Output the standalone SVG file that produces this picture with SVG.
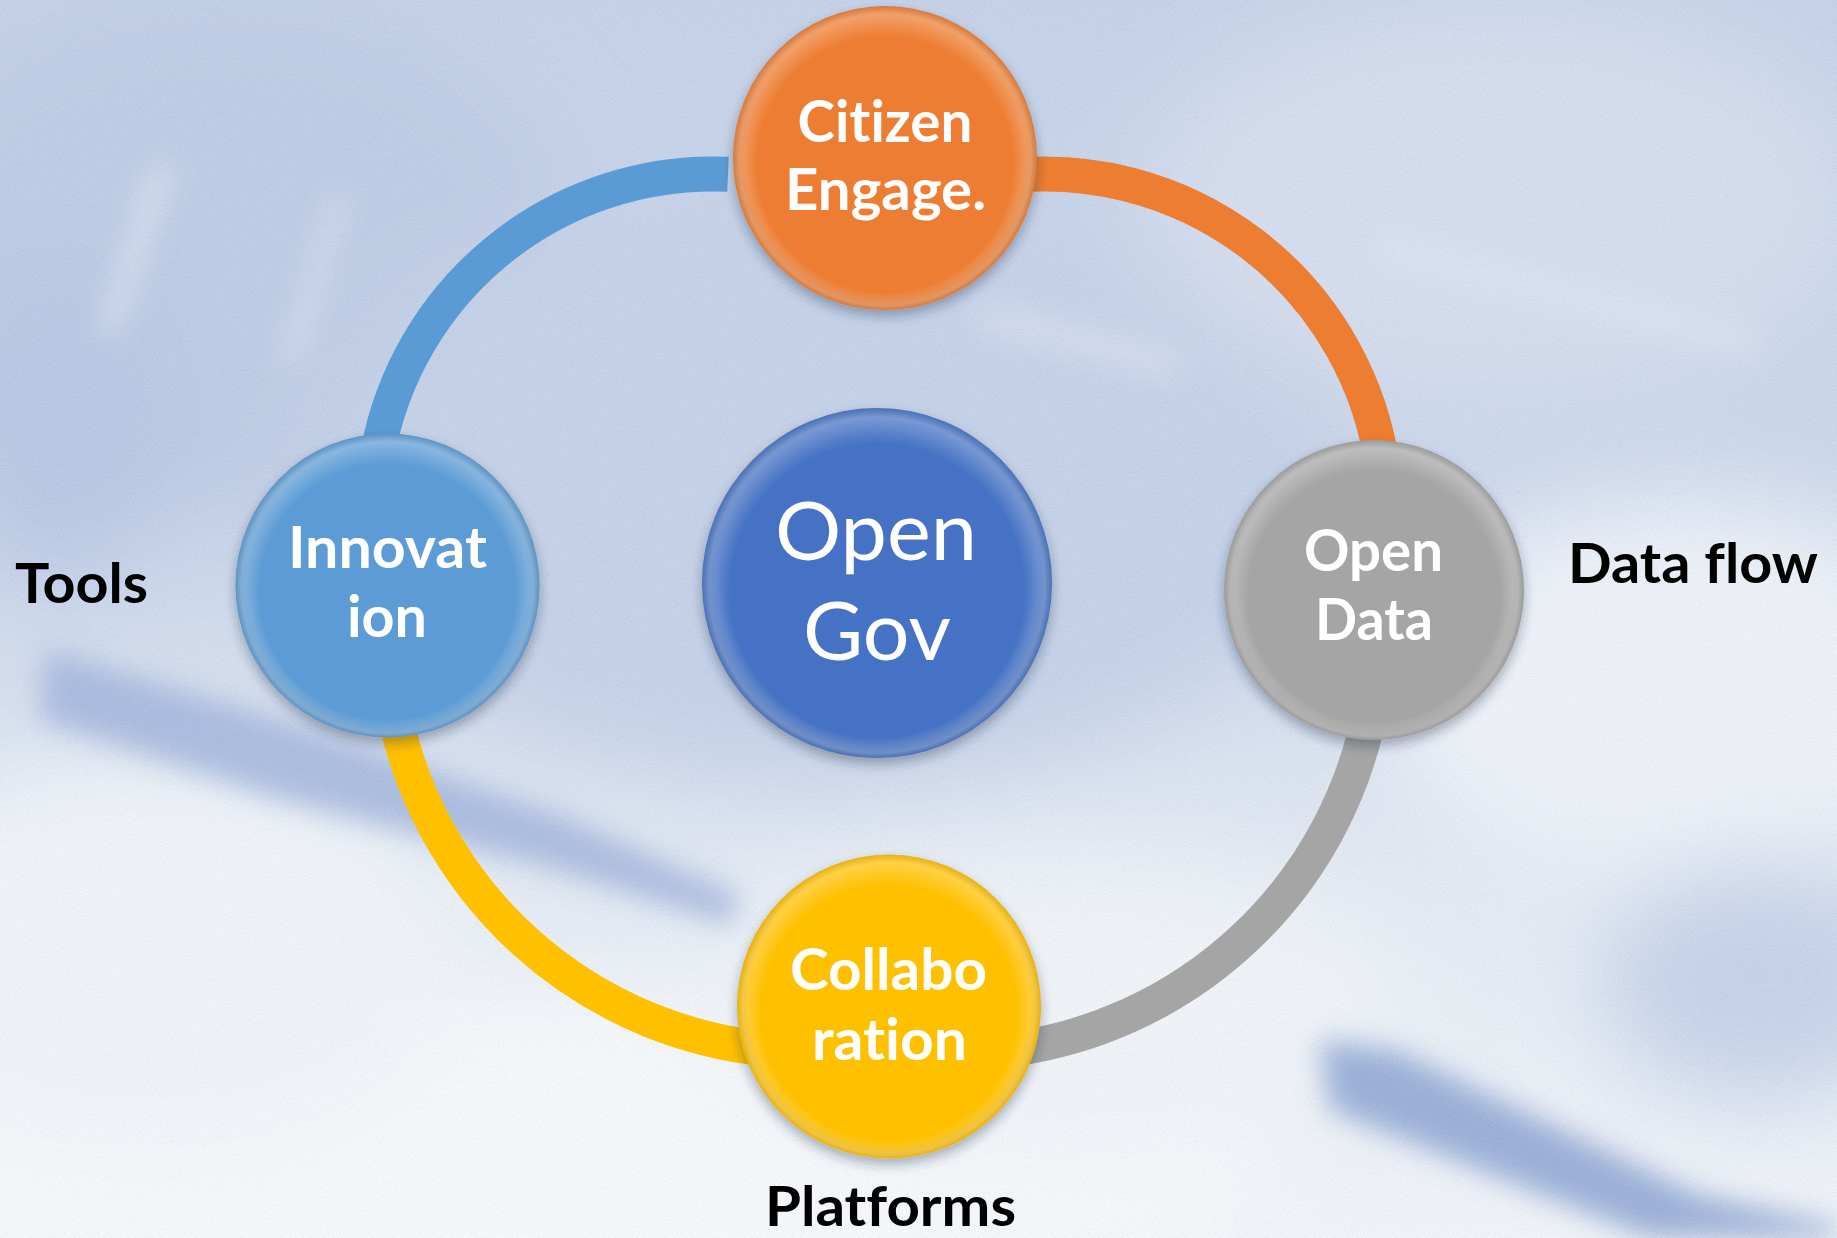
<svg xmlns="http://www.w3.org/2000/svg" width="1837" height="1238" viewBox="0 0 1837 1238">
<defs>
  <style>
    text { font-variant-ligatures: none; font-feature-settings: "liga" 0, "clig" 0, "dlig" 0; }
    .lbl { font-family: Lato, "Open Sans", "Liberation Sans", sans-serif; font-weight: 700; font-size: 57px; fill: #ffffff; text-anchor: middle; }
    .side { font-family: Lato, "Open Sans", "Liberation Sans", sans-serif; font-weight: 700; font-size: 55px; fill: #000000; }
    .core { font-family: Lato, "Open Sans", "Liberation Sans", sans-serif; font-weight: 400; font-size: 82px; fill: #ffffff; text-anchor: middle; }
    .arc { fill: none; stroke-width: 35; stroke-linecap: butt; }
    .rim { fill: url(#rimLight); }
    .rimd { fill: url(#rimDark); }
  </style>
  <linearGradient id="bgGrad" x1="0" y1="0" x2="0" y2="1">
    <stop offset="0" stop-color="#b8c7e4"/>
    <stop offset="0.45" stop-color="#c2cfe9"/>
    <stop offset="0.72" stop-color="#e2e8f4"/>
    <stop offset="1" stop-color="#f4f6fb"/>
  </linearGradient>
  <radialGradient id="rimLight" cx="0.5" cy="0.5" r="0.5" fx="0.5" fy="0.64">
    <stop offset="0" stop-color="#ffffff" stop-opacity="0"/>
    <stop offset="0.84" stop-color="#ffffff" stop-opacity="0"/>
    <stop offset="0.96" stop-color="#ffffff" stop-opacity="0.28"/>
    <stop offset="1" stop-color="#ffffff" stop-opacity="0.08"/>
  </radialGradient>
  <radialGradient id="rimDark" cx="0.5" cy="0.5" r="0.5" fx="0.5" fy="0.36">
    <stop offset="0" stop-color="#000000" stop-opacity="0"/>
    <stop offset="0.92" stop-color="#000000" stop-opacity="0"/>
    <stop offset="1" stop-color="#000000" stop-opacity="0.1"/>
  </radialGradient>
  <filter id="blurBig" x="-30%" y="-30%" width="160%" height="160%">
    <feGaussianBlur stdDeviation="45"/>
  </filter>
  <filter id="blurMid" x="-30%" y="-30%" width="160%" height="160%">
    <feGaussianBlur stdDeviation="14"/>
  </filter>
  <filter id="noise" x="0" y="0" width="100%" height="100%">
    <feTurbulence type="fractalNoise" baseFrequency="0.75" numOctaves="2" seed="7" result="t"/>
    <feColorMatrix in="t" type="matrix" values="0.6 0 0 0 0.45  0.6 0 0 0 0.5  0.5 0 0 0 0.58  0 0 0 0 0.3"/>
  </filter>
  <filter id="shadow" x="-20%" y="-20%" width="140%" height="150%">
    <feDropShadow dx="0" dy="6" stdDeviation="6" flood-color="#1a2540" flood-opacity="0.35"/>
  </filter>
</defs>

<g id="background">
  <rect x="0" y="0" width="1837" height="1238" fill="url(#bgGrad)"/>
  <g filter="url(#blurBig)">
    <ellipse cx="220" cy="260" rx="360" ry="260" fill="#aebfe0"/>
    <ellipse cx="820" cy="480" rx="520" ry="300" fill="#b8c6e4"/>
    <ellipse cx="1500" cy="200" rx="360" ry="200" fill="#cdd7ed"/>
    <ellipse cx="1680" cy="690" rx="300" ry="190" fill="#f0f3fa"/>
    <ellipse cx="560" cy="1160" rx="720" ry="170" fill="#fbfcfe"/>
    <ellipse cx="150" cy="960" rx="320" ry="200" fill="#f3f6fb"/>
    <ellipse cx="1050" cy="1010" rx="360" ry="150" fill="#f2f5fa"/>
    <ellipse cx="1760" cy="980" rx="160" ry="120" fill="#b9c7e6"/>
    <ellipse cx="60" cy="420" rx="120" ry="160" fill="#a7b9de"/>
  </g>
  <g filter="url(#blurMid)">
    <polygon points="45,650 300,725 560,815 740,895 730,925 540,865 280,800 40,720" fill="#7b95cf" opacity="0.75"/>
    <polygon points="1320,1040 1395,1050 1700,1195 1837,1225 1837,1238 1650,1238 1330,1110" fill="#6a87c7" opacity="0.85"/>
    <polygon points="150,170 175,160 120,330 98,335" fill="#e8eef8" opacity="0.6"/>
    <polygon points="330,200 350,195 300,360 280,362" fill="#e8eef8" opacity="0.45"/>
    <polygon points="980,300 1180,350 1175,380 975,330" fill="#dfe6f4" opacity="0.5"/>
    <polygon points="1380,230 1760,330 1755,360 1375,262" fill="#dfe6f4" opacity="0.45"/>
  </g>
  <rect x="0" y="0" width="1837" height="1238" filter="url(#noise)"/>
</g>

<g id="connectors">
  <path class="arc" d="M 728 174.3 A 341 341 0 0 0 375 470" stroke="#5B9BD5"/>
  <path class="arc" d="M 1000 177 A 341 341 0 0 1 1383 470" stroke="#ED7D31"/>
  <path class="arc" d="M 1372 700 A 423 423 0 0 1 1000 1050.6" stroke="#A5A5A5"/>
  <path class="arc" d="M 392 700 A 423 423 0 0 0 780 1050" stroke="#FFC000"/>
</g>

<g id="node-citizen">
  <circle cx="885" cy="158" r="152" fill="#ED7D31" filter="url(#shadow)"/>
  <circle class="rim" cx="885" cy="158" r="152"/>
  <circle class="rimd" cx="885" cy="158" r="152"/>
  <text class="lbl" x="885" y="142" textLength="175" lengthAdjust="spacingAndGlyphs">Citizen</text>
  <text class="lbl" x="885.5" y="210" textLength="201" lengthAdjust="spacingAndGlyphs">Engage.</text>
</g>

<g id="node-innovation">
  <circle cx="387.5" cy="585.5" r="152" fill="#5B9BD5" filter="url(#shadow)"/>
  <circle class="rim" cx="387.5" cy="585.5" r="152"/>
  <circle class="rimd" cx="387.5" cy="585.5" r="152"/>
  <text class="lbl" x="387.5" y="568" textLength="199" lengthAdjust="spacingAndGlyphs">Innovat</text>
  <text class="lbl" x="387" y="637" textLength="80" lengthAdjust="spacingAndGlyphs">ion</text>
</g>

<g id="node-opendata">
  <circle cx="1374" cy="590" r="150" fill="#A5A5A5" filter="url(#shadow)"/>
  <circle class="rim" cx="1374" cy="590" r="150"/>
  <circle class="rimd" cx="1374" cy="590" r="150"/>
  <text class="lbl" x="1373.5" y="571" textLength="139" lengthAdjust="spacingAndGlyphs">Open</text>
  <text class="lbl" x="1374" y="640" textLength="118" lengthAdjust="spacingAndGlyphs">Data</text>
</g>

<g id="node-collaboration">
  <circle cx="889" cy="1006.5" r="152" fill="#FFC000" filter="url(#shadow)"/>
  <circle class="rim" cx="889" cy="1006.5" r="152"/>
  <circle class="rimd" cx="889" cy="1006.5" r="152"/>
  <text class="lbl" x="888.5" y="990" textLength="197" lengthAdjust="spacingAndGlyphs">Collabo</text>
  <text class="lbl" x="889.5" y="1060" textLength="155" lengthAdjust="spacingAndGlyphs">ration</text>
</g>

<g id="node-opengov">
  <circle cx="877" cy="583" r="175" fill="#4472C4" filter="url(#shadow)"/>
  <circle class="rim" cx="877" cy="583" r="175"/>
  <circle class="rimd" cx="877" cy="583" r="175"/>
  <text class="core" x="876" y="560" textLength="202" lengthAdjust="spacingAndGlyphs">Open</text>
  <text class="core" x="877" y="660" textLength="148" lengthAdjust="spacingAndGlyphs">Gov</text>
</g>

<g id="labels">
  <text class="side" x="15" y="603" textLength="133" lengthAdjust="spacingAndGlyphs">Tools</text>
  <text class="side" x="1568" y="583" textLength="250" lengthAdjust="spacingAndGlyphs">Data flow</text>
  <text class="side" x="765" y="1226" textLength="251" lengthAdjust="spacingAndGlyphs">Platforms</text>
</g>
</svg>
